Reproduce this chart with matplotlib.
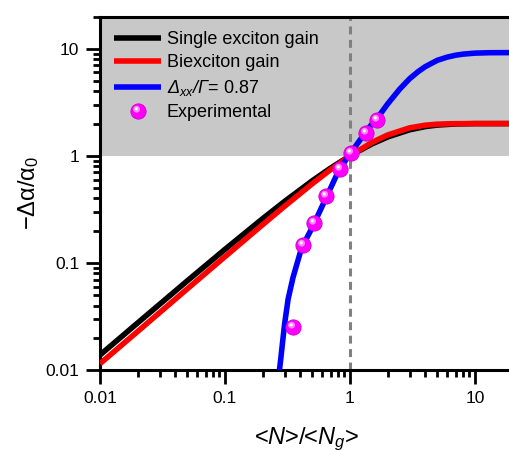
import numpy as np
import matplotlib
matplotlib.use("Agg")
import matplotlib.pyplot as plt
from matplotlib.path import Path
from matplotlib.ticker import LogLocator, FuncFormatter, NullFormatter
from matplotlib.legend_handler import HandlerTuple

plt.rcParams["font.family"] = ["Liberation Sans", "DejaVu Sans"]
plt.rcParams["mathtext.fontset"] = "custom"
plt.rcParams["mathtext.rm"] = "Liberation Sans"
plt.rcParams["mathtext.it"] = "Liberation Sans:italic"
plt.rcParams["mathtext.sf"] = "Liberation Sans:italic"

# model curves
x_model = [0.01, 0.02, 0.05, 0.1, 0.2, 0.3, 0.5, 0.7, 1.0, 1.5, 2.0, 3.0, 4.0, 5.0, 7.0, 10.0, 20.0]
single_gain = [0.0138, 0.0275, 0.0681, 0.1339, 0.2589, 0.3755, 0.5858, 0.7689, 1.0,
               1.2929, 1.5, 1.75, 1.875, 1.9375, 1.984, 1.998, 2.0]
biexc_gain = [0.01146, 0.0229, 0.0573, 0.1144, 0.2274, 0.3381, 0.5493, 0.7437, 1.0,
              1.3333, 1.5662, 1.8252, 1.9327, 1.9749, 1.9967, 1.9999, 2.0]

# Delta_xx / Gamma = 0.87 curve
x_dxx = [0.27, 0.28, 0.29, 0.30, 0.32, 0.35, 0.40, 0.45, 0.50, 0.60, 0.70, 0.80, 0.90,
         1.0, 1.2, 1.4, 1.7, 2.0, 2.5, 3.0, 3.5, 4.0, 5.0, 6.0, 7.0, 8.0, 10.0, 13.0, 20.0]
dxx_gain = [0.009, 0.013, 0.019, 0.027, 0.046, 0.073, 0.125, 0.17, 0.215, 0.34, 0.5, 0.7,
            0.87, 1.04, 1.4, 1.8, 2.35, 3.05, 4.2, 5.25, 6.1, 6.8, 7.8, 8.35, 8.7, 8.9,
            9.1, 9.18, 9.2]

# experimental points
x_exp = [0.348, 0.418, 0.515, 0.643, 0.832, 1.02, 1.335, 1.66]
y_exp = [0.0254, 0.147, 0.238, 0.426, 0.757, 1.07, 1.63, 2.15]


def spot_marker(cx, cy, r):
    # small off-centre disc used as the shine on the sphere markers
    circ = Path.unit_circle()
    verts = np.vstack([circ.vertices * r + [cx, cy], [[1.0, 1.0], [-1.0, -1.0]]])
    codes = np.concatenate([circ.codes, [Path.MOVETO, Path.MOVETO]])
    return Path(verts, codes)


fig = plt.figure(figsize=(5.10, 4.51), dpi=100)
ax = fig.add_axes([100 / 510, 81 / 451, 412.6 / 510, 353.5 / 451])

ax.set_xscale("log")
ax.set_yscale("log")
ax.set_xlim(0.01, 20)
ax.set_ylim(0.01, 20)

ax.axhspan(1, 20, color="#c8c8c8", lw=0, zorder=0)
ax.axvline(1, color="#808080", lw=2.2, dashes=(2.6, 1.8), zorder=1)

l1, = ax.plot(x_model, single_gain, color="black", lw=4, solid_capstyle="butt", zorder=2)
l2, = ax.plot(x_model, biexc_gain, color="#ff0000", lw=4, solid_capstyle="butt", zorder=3)
l3, = ax.plot(x_dxx, dxx_gain, color="#0000ff", lw=4, solid_capstyle="butt", zorder=4)

ms = 11
m0, = ax.plot(x_exp, y_exp, "o", ms=ms, color="#ff00ff", mec="#cc00cc", mew=0.6,
              zorder=5, linestyle="none")
m1, = ax.plot(x_exp, y_exp, marker=spot_marker(-0.25, 0.3, 0.45), ms=ms, color="#ff88ff",
              mew=0, linestyle="none", zorder=6)
m2, = ax.plot(x_exp, y_exp, marker=spot_marker(-0.3, 0.35, 0.2), ms=ms, color="white",
              mew=0, linestyle="none", zorder=7)

leg = ax.legend([l1, l2, l3, (m0, m1, m2)],
                ["Single exciton gain", "Biexciton gain",
                 r"$\mathsf{\Delta_{xx}/\Gamma}$= 0.87", "Experimental"],
                handler_map={tuple: HandlerTuple(ndivide=1)},
                loc="upper left", frameon=False, fontsize=13, handlelength=2.6,
                handletextpad=0.3, labelspacing=0.36, borderaxespad=0.3,
                borderpad=0.5, numpoints=1)

fmt = FuncFormatter(lambda v, p: f"{v:g}")
for axis in (ax.xaxis, ax.yaxis):
    axis.set_major_locator(LogLocator(base=10, numticks=10))
    axis.set_minor_locator(LogLocator(base=10, subs=np.arange(2, 10), numticks=20))
    axis.set_major_formatter(fmt)
    axis.set_minor_formatter(NullFormatter())

ax.tick_params(which="both", direction="out", width=2, top=False, right=False,
               labelsize=12.5, pad=5)
ax.tick_params(which="major", length=10)
ax.tick_params(which="minor", length=5)

for side in ("left", "bottom", "top"):
    ax.spines[side].set_linewidth(2.2)
ax.spines["right"].set_visible(False)

ax.set_xlabel(r"<$\mathit{N}$>/<$\mathit{N_g}$>", fontsize=17, labelpad=14)
ax.set_ylabel(r"$\mathrm{-\Delta\alpha/\alpha_0}$", fontsize=17, labelpad=3)

fig.savefig("out.png", dpi=100)
